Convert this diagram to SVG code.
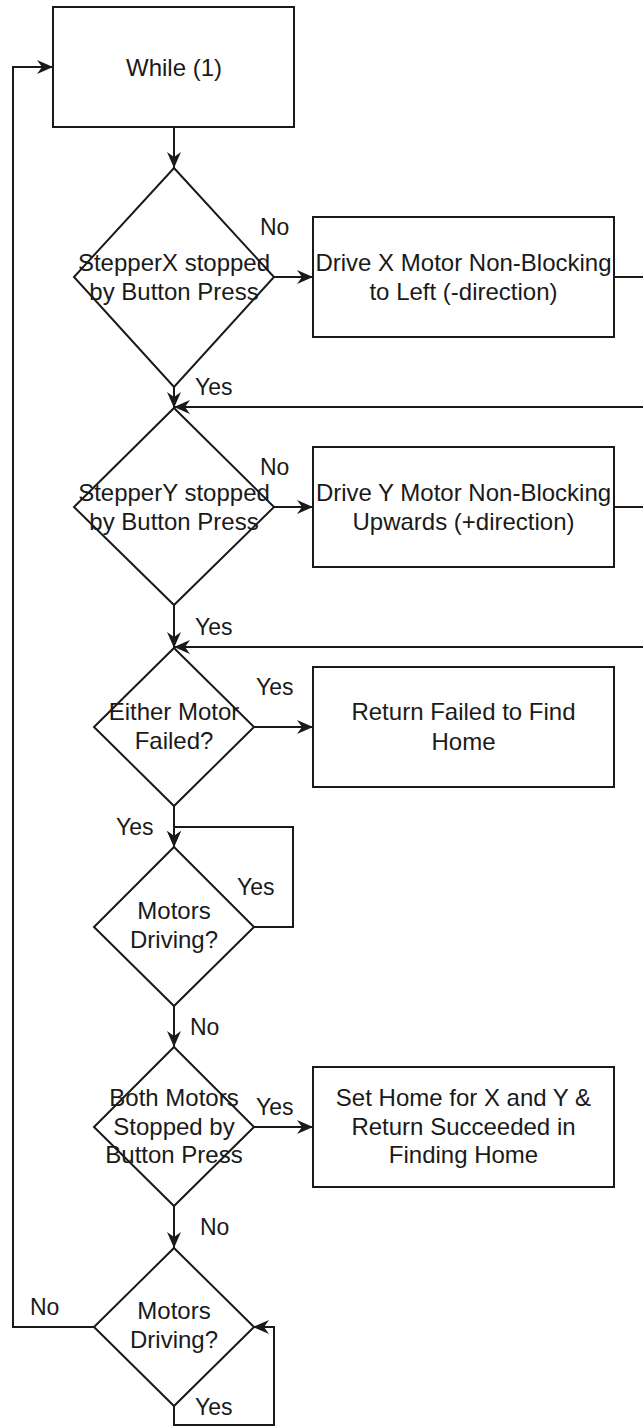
<svg xmlns="http://www.w3.org/2000/svg" width="643" height="1426" viewBox="0 0 643 1426">
  <style>
    .shape { fill: #ffffff; stroke: #1a1a1a; stroke-width: 2; }
    .edge { fill: none; stroke: #1a1a1a; stroke-width: 2; marker-end: url(#arrow); }
    text { font-family: "Liberation Sans", Arial, Helvetica, sans-serif; fill: #1a1a1a; }
    .node-text { font-size: 24px; text-anchor: middle; }
    .label { font-size: 23px; }
  </style>
  <defs>
    <marker id="arrow" markerUnits="userSpaceOnUse" markerWidth="18" markerHeight="16" refX="16" refY="7" orient="auto">
      <path d="M0,0 L16,7 L0,14 L5,7 Z" fill="#1a1a1a"/>
    </marker>
  </defs>

  <rect width="643" height="1426" fill="#ffffff"/>

  <!-- connectors -->
  <g id="connectors">
    <path class="edge" d="M174,127 V168"/>
    <path class="edge" d="M273,277 H313"/>
    <path class="edge" d="M614,277 H660 V407 H174"/>
    <path class="edge" d="M174,387 V408"/>
    <path class="edge" d="M273,507 H313"/>
    <path class="edge" d="M614,507 H660 V647 H174"/>
    <path class="edge" d="M174,604 V648"/>
    <path class="edge" d="M253,727 H313"/>
    <path class="edge" d="M174,805 V847"/>
    <path class="edge" d="M253,927 H293 V827 H174 V847"/>
    <path class="edge" d="M174,1005 V1047"/>
    <path class="edge" d="M253,1127 H313"/>
    <path class="edge" d="M174,1205 V1248"/>
    <path class="edge" d="M94,1327 H13 V67 H53"/>
    <path class="edge" d="M174,1405 V1425 H274 V1327 H253"/>

    <!-- connector labels -->
    <text class="label" x="260" y="235">No</text>
    <text class="label" x="195" y="395">Yes</text>
    <text class="label" x="260" y="475">No</text>
    <text class="label" x="195" y="635">Yes</text>
    <text class="label" x="256" y="695">Yes</text>
    <text class="label" x="116" y="835">Yes</text>
    <text class="label" x="237" y="895">Yes</text>
    <text class="label" x="190" y="1035">No</text>
    <text class="label" x="256" y="1115">Yes</text>
    <text class="label" x="200" y="1235">No</text>
    <text class="label" x="30" y="1315">No</text>
    <text class="label" x="195" y="1415">Yes</text>
  </g>

  <!-- nodes -->
  <g id="while-loop">
    <rect class="shape" x="53" y="7" width="241" height="120"/>
    <text class="node-text" x="174" y="75.5">While (1)</text>
  </g>

  <g id="check-x-stopped">
    <polygon class="shape" points="174,168 274,277 174,387 74,277"/>
    <text class="node-text" x="174" y="271">StepperX stopped</text>
    <text class="node-text" x="174" y="300">by Button Press</text>
  </g>

  <g id="drive-x">
    <rect class="shape" x="313" y="217" width="301" height="120"/>
    <text class="node-text" x="463.5" y="271">Drive X Motor Non-Blocking</text>
    <text class="node-text" x="463.5" y="300">to Left (-direction)</text>
  </g>

  <g id="check-y-stopped">
    <polygon class="shape" points="174,408 274,507 174,605 74,507"/>
    <text class="node-text" x="174" y="501">StepperY stopped</text>
    <text class="node-text" x="174" y="530">by Button Press</text>
  </g>

  <g id="drive-y">
    <rect class="shape" x="313" y="447" width="301" height="120"/>
    <text class="node-text" x="463.5" y="501">Drive Y Motor Non-Blocking</text>
    <text class="node-text" x="463.5" y="530">Upwards (+direction)</text>
  </g>

  <g id="check-failed">
    <polygon class="shape" points="174,648 254,727 174,806 94,727"/>
    <text class="node-text" x="174" y="720">Either Motor</text>
    <text class="node-text" x="174" y="749">Failed?</text>
  </g>

  <g id="return-failed">
    <rect class="shape" x="313" y="667" width="301" height="120"/>
    <text class="node-text" x="463.5" y="720">Return Failed to Find</text>
    <text class="node-text" x="463.5" y="750">Home</text>
  </g>

  <g id="wait-driving">
    <polygon class="shape" points="174,847 254,927 174,1006 94,927"/>
    <text class="node-text" x="174" y="919">Motors</text>
    <text class="node-text" x="174" y="948">Driving?</text>
  </g>

  <g id="check-both-stopped">
    <polygon class="shape" points="174,1047 254,1127 174,1206 94,1127"/>
    <text class="node-text" x="174" y="1106">Both Motors</text>
    <text class="node-text" x="174" y="1135">Stopped by</text>
    <text class="node-text" x="174" y="1163">Button Press</text>
  </g>

  <g id="set-home">
    <rect class="shape" x="313" y="1067" width="301" height="120"/>
    <text class="node-text" x="463.5" y="1106">Set Home for X and Y &amp;</text>
    <text class="node-text" x="463.5" y="1135">Return Succeeded in</text>
    <text class="node-text" x="463.5" y="1163">Finding Home</text>
  </g>

  <g id="final-driving">
    <polygon class="shape" points="174,1248 254,1327 174,1406 94,1327"/>
    <text class="node-text" x="174" y="1319">Motors</text>
    <text class="node-text" x="174" y="1348">Driving?</text>
  </g>
</svg>
